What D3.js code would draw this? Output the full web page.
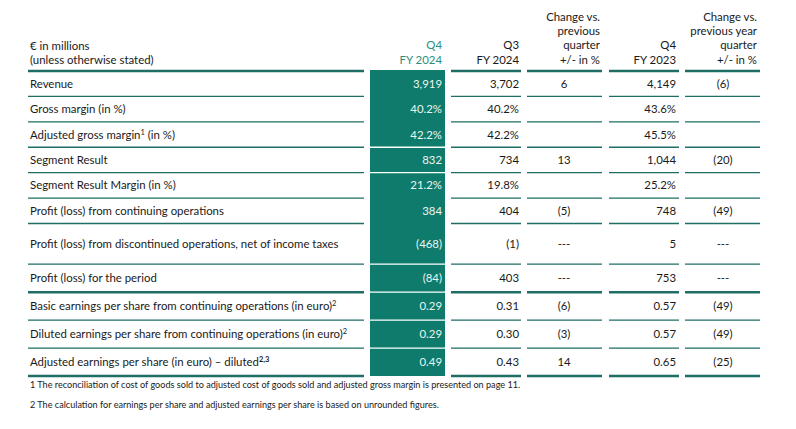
<!DOCTYPE html>
<html><head><meta charset="utf-8">
<script src="https://cdn.jsdelivr.net/npm/d3@7"></script>
<style>body{margin:0;background:#fff}</style>
</head><body>
<svg id="c" width="796" height="429"></svg>
<script>
const rowLabels = [
  "Revenue",
  "Gross margin (in %)",
  "Adjusted gross margin|1| (in %)",
  "Segment Result",
  "Segment Result Margin (in %)",
  "Profit (loss) from continuing operations",
  "Profit (loss) from discontinued operations, net of income taxes",
  "Profit (loss) for the period",
  "Basic earnings per share from continuing operations (in euro)|2",
  "Diluted earnings per share from continuing operations (in euro)|2",
  "Adjusted earnings per share (in euro) \u2013 diluted|2,3"
];
const q4fy24 = ["3,919","40.2%","42.2%","832","21.2%","384","(468)","(84)","0.29","0.29","0.49"];
const q3fy24 = ["3,702","40.2%","42.2%","734","19.8%","404","(1)","403","0.31","0.30","0.43"];
const chgQ   = ["6","","","13","","(5)","---","---","(6)","(3)","14"];
const q4fy23 = ["4,149","43.6%","45.5%","1,044","25.2%","748","5","753","0.57","0.57","0.65"];
const chgY   = ["(6)","","","(20)","","(49)","---","---","(49)","(49)","(25)"];
const headers = [
  ["Q4","FY 2024"],
  ["Q3","FY 2024"],
  ["Change vs.","previous","quarter","+/- in %"],
  ["Q4","FY 2023"],
  ["Change vs.","previous year","quarter","+/- in %"]
];
const unitLabel = ["\u20ac in millions","(unless otherwise stated)"];
const footnotes = [
  "1 The reconciliation of cost of goods sold to adjusted cost of goods sold and adjusted gross margin is presented on page 11.",
  "2 The calculation for earnings per share and adjusted earnings per share is based on unrounded figures."
];

const svg = d3.select("#c");
const FONT = "Lato, 'Open Sans', sans-serif";
const FS = 11.4;
const LINE = "#1e6e66", TEAL = "#0f7b6c", TXT = "#1a1a1a";

// row geometry
const rowWeights = rowLabels.map((d,i)=> i===6 ? 1.6 : (i>=7 ? 1.1 : 1));
const cum = [0]; rowWeights.forEach(w=>cum.push(cum[cum.length-1]+w));
const yS = d3.scaleLinear().domain([0, cum[cum.length-1]]).range([71, 376]);
const bounds = cum.map(c=>yS(c));

const cols = [
  {x0:370,x1:445,anchor:"end",tx:442,hx:442,data:q4fy24,hl:true},
  {x0:451,x1:521,anchor:"end",tx:519,hx:519,data:q3fy24},
  {x0:527,x1:602,anchor:"middle",tx:564,hx:600,data:chgQ},
  {x0:609,x1:679,anchor:"end",tx:676,hx:676,data:q4fy23},
  {x0:685,x1:760,anchor:"middle",tx:723,hx:757,data:chgY}
];

svg.append("rect").attr("x",370).attr("y",bounds[0]-1).attr("width",75)
  .attr("height",bounds[bounds.length-1]-bounds[0]+1).attr("fill",TEAL);

svg.append("g").selectAll("text").data(unitLabel).join("text")
  .attr("x",30).attr("y",(d,i)=>50+i*14).attr("font-family",FONT).attr("font-size",FS)
  .attr("fill",TXT).text(d=>d);
cols.forEach(c=>{
  const h = headers[cols.indexOf(c)];
  svg.append("g").selectAll("text").data(h).join("text")
    .attr("x", c.hx).attr("y",(d,i)=>63.5-(h.length-1-i)*14.3)
    .attr("text-anchor","end").attr("font-family",FONT).attr("font-size",FS)
    .attr("fill", c.hl ? "#2a8f7d" : TXT).text(d=>d);
});

const thick = i => (i===0 || i===8 || i===bounds.length-1);
svg.append("g").selectAll("line").data(bounds).join("line")
  .attr("x1",28).attr("x2",364).attr("y1",d=>d).attr("y2",d=>d)
  .attr("stroke",LINE).attr("stroke-width",(d,i)=>thick(i)?2.5:1.3);
cols.forEach(c=>{
  if (c.hl) {
    const whiteIdx = [3,4,7,8,9,10];
    svg.append("g").selectAll("line").data(whiteIdx).join("line")
      .attr("x1",c.x0).attr("x2",c.x1).attr("y1",i=>bounds[i]).attr("y2",i=>bounds[i])
      .attr("stroke","#ffffff").attr("stroke-width",1.3);
  } else {
    svg.append("g").selectAll("line").data(bounds).join("line")
      .attr("x1",c.x0).attr("x2",c.x1).attr("y1",d=>d).attr("y2",d=>d)
      .attr("stroke",LINE).attr("stroke-width",(d,i)=>thick(i)?2.5:1.3);
  }
});

const rowY = i => (bounds[i]+bounds[i+1])/2+4;
svg.append("g").selectAll("text").data(rowLabels).join("text")
  .attr("x",30).attr("y",(d,i)=>rowY(i))
  .attr("font-family",FONT).attr("font-size",FS).attr("fill",TXT)
  .each(function(d){
    const t = d3.select(this);
    const parts = d.split("|");
    let sup = false;
    parts.forEach((p,k)=>{
      if (k%2===1) {
        t.append("tspan").attr("dy",-4).attr("font-size",7.5)
          .attr("font-weight", p.includes(",")?"bold":"normal").text(p);
        sup = true;
      } else if (p) {
        const ts = t.append("tspan").text(p);
        if (sup) { ts.attr("dy",4); sup = false; }
      }
    });
  });

cols.forEach(c=>{
  svg.append("g").selectAll("text").data(c.data.map((v,i)=>({v,i})).filter(o=>o.v)).join("text")
    .attr("x",c.tx).attr("y",o=>rowY(o.i))
    .attr("text-anchor",c.anchor).attr("font-family",FONT).attr("font-size",FS)
    .attr("fill", c.hl ? "#e9f6f1" : TXT).text(o=>o.v);
});

svg.append("g").selectAll("text").data(footnotes).join("text")
  .attr("x",30).attr("y",(d,i)=>388+i*20).attr("font-family",FONT).attr("font-size",9.1)
  .attr("fill",TXT).text(d=>d);
</script>
</body></html>
